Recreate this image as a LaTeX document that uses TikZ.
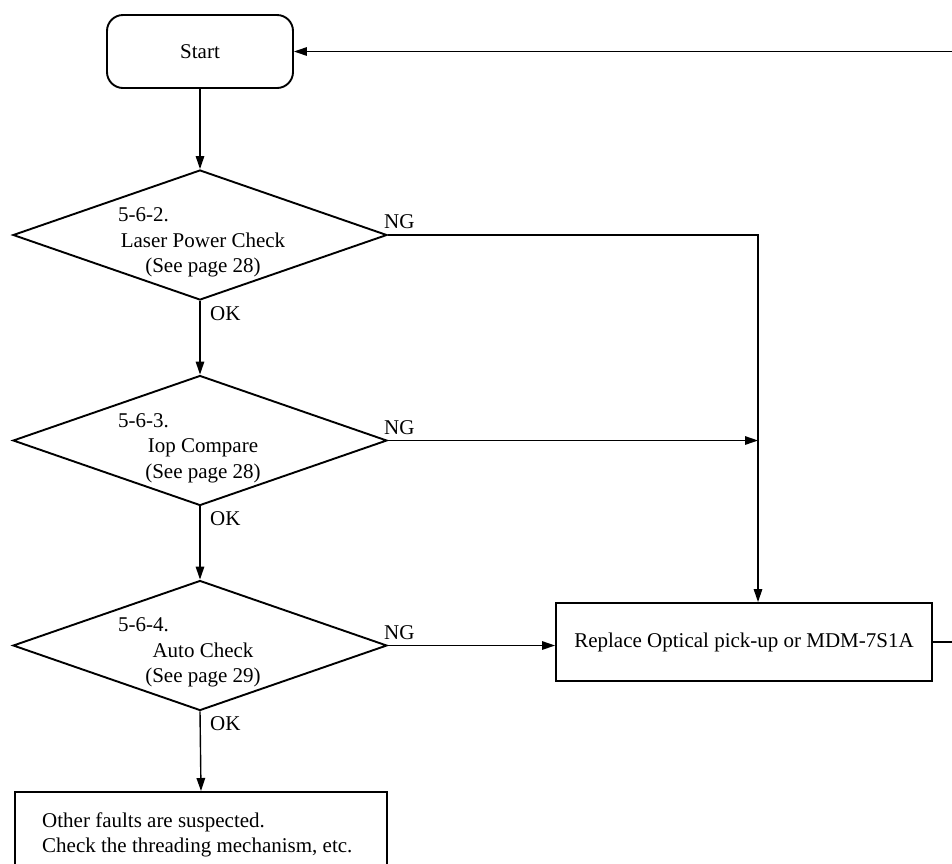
\documentclass[tikz,border=0pt]{standalone}
\usepackage{fontspec}
\setmainfont{Liberation Serif}
\usetikzlibrary{shapes.geometric,arrows.meta,calc}
\begin{document}
\begin{tikzpicture}[x=1pt,y=-1pt,
  every node/.style={font=\fontsize{21}{25.5}\selectfont},
  boxline/.style={draw=black,line width=1.9pt},
  startbox/.style={boxline,rounded corners=16pt,minimum width=186pt,minimum height=73pt,inner sep=0pt},
  decision/.style={boxline,diamond,minimum width=374pt,minimum height=130pt,inner sep=0pt},
  procbox/.style={boxline,rectangle,inner sep=0pt},
  conn/.style={draw=black,line width=1.4pt},
  arr/.style={conn,-{Triangle[length=13pt,width=8.5pt]}},
  lbl/.style={inner sep=0pt},
  dtext/.style={inner sep=0pt,align=center}]
\useasboundingbox (0,0) rectangle (952,863);
\clip (0,0) rectangle (952,863);
\fill[white] (0,0) rectangle (952,863);

\node[startbox] (start) at (200,51.5) {Start};

\node[decision] (d1) at (200,235) {};
\node[decision] (d2) at (200,440.5) {};
\node[decision] (d3) at (200,645.5) {};

\node[lbl,anchor=west] (t1a) at (118,215) {5-6-2.};
\node[dtext] (t1b) at (203,255) {Laser Power Check\\(See page 28)};
\node[lbl,anchor=west] (t2a) at (118,421) {5-6-3.};
\node[dtext] (t2b) at (203,461) {Iop Compare\\(See page 28)};
\node[lbl,anchor=west] (t3a) at (118,625) {5-6-4.};
\node[dtext] (t3b) at (203,665) {Auto Check\\(See page 29)};

\node[procbox,minimum width=376pt,minimum height=78pt] (rep) at (744,642) {Replace Optical pick-up or MDM-7S1A};
\node[procbox,minimum width=372pt,minimum height=100pt,anchor=north] (oth) at (201,791) {};
\node[lbl,anchor=north west,align=left] (othtxt) at (42,812) {Other faults are suspected.\\Check the threading mechanism, etc.};

\coordinate (jx) at ([xshift=14pt]rep.north);
\coordinate (j2) at (jx |- d2.east);

\draw[arr] (start.south) -- (d1.north);
\draw[arr] (d1.south) -- (d2.north);
\draw[arr] (d2.south) -- (d3.north);
\draw[arr] (d3.south) -- (oth.north);

\draw[arr] (d1.east) -| (jx);
\draw[arr] (d2.east) -- (j2);
\draw[arr] (d3.east) -- (d3.east -| rep.west);
\draw[arr] (rep.east) -- ++(40,0) |- (start.east);

\node[lbl,anchor=south west] (ng1) at ([xshift=-4pt,yshift=6pt]d1.east) {NG};
\node[lbl,anchor=south west] (ng2) at ([xshift=-4pt,yshift=6pt]d2.east) {NG};
\node[lbl,anchor=south west] (ng3) at ([xshift=-4pt,yshift=6pt]d3.east) {NG};
\node[lbl,anchor=north west] (ok1) at ([xshift=10pt,yshift=-5pt]d1.south) {OK};
\node[lbl,anchor=north west] (ok2) at ([xshift=10pt,yshift=-5pt]d2.south) {OK};
\node[lbl,anchor=north west] (ok3) at ([xshift=10pt,yshift=-5pt]d3.south) {OK};
\end{tikzpicture}
\end{document}
